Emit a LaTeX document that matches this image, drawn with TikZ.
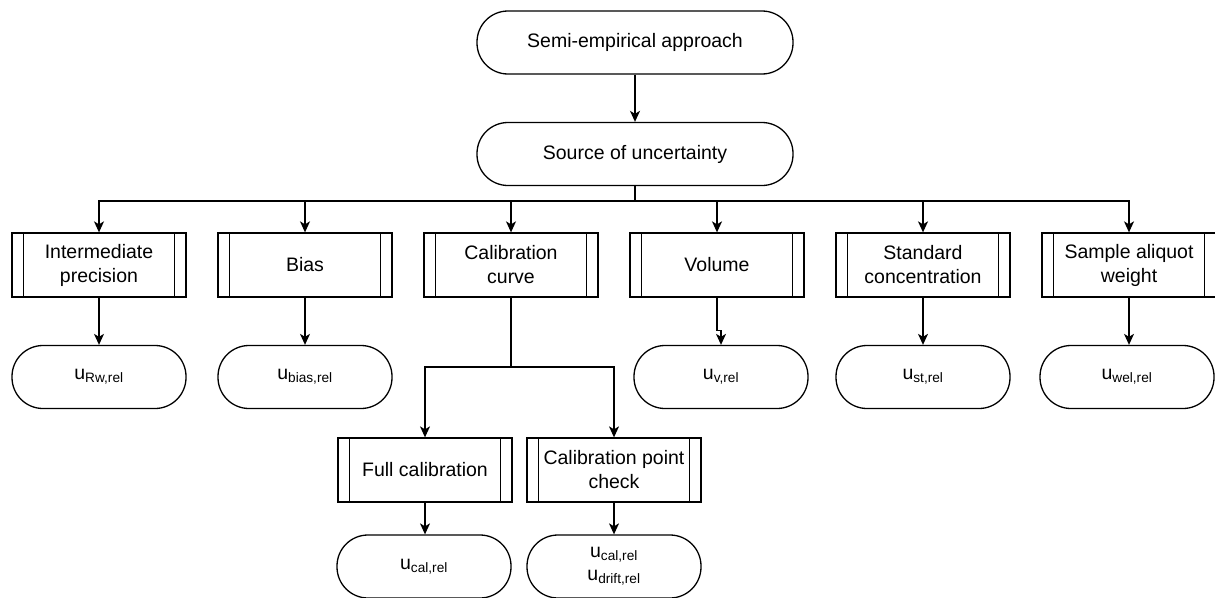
\documentclass[tikz,border=0pt]{standalone}
\usepackage{fontspec}
\setmainfont{Liberation Sans}
\usetikzlibrary{arrows.meta}
\begin{document}
\begin{tikzpicture}[x=1pt,y=-1pt,
  every node/.style={font=\fontsize{19.5}{24}\selectfont, text=black},
  term/.style={draw, line width=1.3pt, rounded corners=31pt, minimum width=316pt, minimum height=63pt, inner sep=0pt, align=center},
  sterm/.style={term, minimum width=174pt},
  proc/.style={draw, line width=1.3pt, minimum width=174pt, minimum height=64pt, inner sep=0pt, align=center},
  bar/.style={line width=1.3pt},
  conn/.style={line width=1.3pt, -{Stealth[length=11pt,width=10pt,inset=3pt]}},
  plainline/.style={line width=1.3pt}
]
\useasboundingbox (0,0) rectangle (1215,597);
\fill[white] (0,0) rectangle (1215,597);

% top terminals
\node[term] (top) at (635,42.5) {Semi-empirical approach};
\node[term] (src) at (635,154) {Source of uncertainty};
\coordinate (bus) at (635,201);

% process boxes
\node[proc] (p1) at (99,265) {Intermediate\\precision};
\node[proc] (p2) at (305,265) {Bias};
\node[proc] (p3) at (511,265) {Calibration\\curve};
\node[proc] (p4) at (717,265) {Volume};
\node[proc] (p5) at (923,265) {Standard\\concentration};
\node[proc] (p6) at (1129,265) {Sample aliquot\\weight};
\node[proc] (fc) at (425,470) {Full calibration};
\node[proc] (cp) at (614,470) {Calibration point\\check};

\foreach \n in {p1,p2,p3,p4,p5,p6,fc,cp}{
  \draw[bar] ([xshift=12pt]\n.north west) -- ([xshift=12pt]\n.south west);
  \draw[bar] ([xshift=-12pt]\n.north east) -- ([xshift=-12pt]\n.south east);
}

% result terminals
\node[sterm] (r1) at (99,377) {u\textsubscript{Rw,rel}};
\node[sterm] (r2) at (305,377) {u\textsubscript{bias,rel}};
\node[sterm] (r4) at (721,377) {u\textsubscript{v,rel}};
\node[sterm] (r5) at (923,377) {u\textsubscript{st,rel}};
\node[sterm] (r6) at (1127,377) {u\textsubscript{wel,rel}};
\node[sterm] (rf) at (424,566.5) {u\textsubscript{cal,rel}};
\node[sterm] (rc) at (614,566.5) {u\textsubscript{cal,rel}\\[-1pt]u\textsubscript{drift,rel}};

% connectors
\draw[conn] (top) -- (src);
\foreach \n in {p1,p2,p3,p4,p5,p6}{
  \draw[conn] (src.south) -- (bus) -| (\n.north);
}
\draw[conn] (p1) -- (r1);
\draw[conn] (p2) -- (r2);
\draw[conn] (p4.south) -- ++(0,33) -| (r4.north);
\draw[conn] (p5) -- (r5);
\draw[conn] (p6.south) -- (p6.south |- r6.north);
\coordinate (cj) at (511,367);
\draw[conn] (p3.south) -- (cj) -| (fc.north);
\draw[conn] (p3.south) -- (cj) -| (cp.north);
\draw[conn] (fc.south) -- (fc.south |- rf.north);
\draw[conn] (cp) -- (rc);
\end{tikzpicture}
\end{document}
